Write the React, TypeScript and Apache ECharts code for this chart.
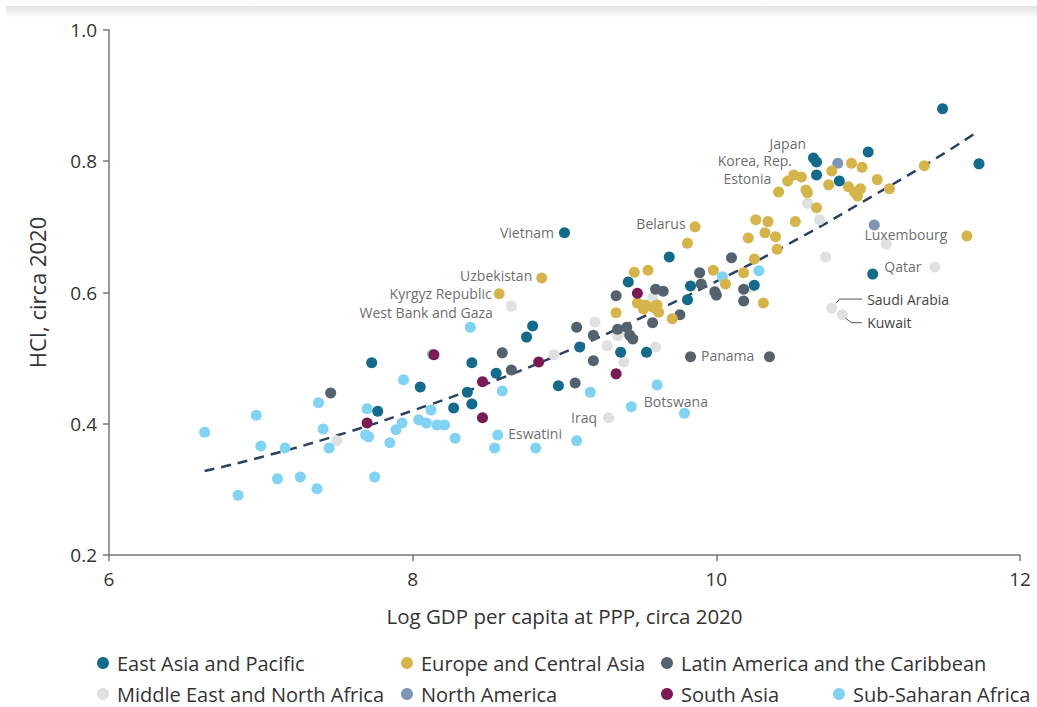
import React, { useEffect, useRef } from "react";
import * as echarts from "echarts";

// ---- Data ----
const regionNames = [
  "East Asia and Pacific",
  "Europe and Central Asia",
  "Latin America and the Caribbean",
  "Middle East and North Africa",
  "North America",
  "South Asia",
  "Sub-Saharan Africa",
];

const eastAsiaPacific = [
  [7.73, 0.493], [7.77, 0.419], [8.05, 0.456], [8.36, 0.448], [8.39, 0.493], [8.27, 0.424],
  [8.39, 0.43], [8.55, 0.477], [9.0, 0.691], [8.79, 0.549], [8.75, 0.532], [9.1, 0.517],
  [8.96, 0.458], [9.37, 0.509], [9.54, 0.509], [9.42, 0.616], [9.69, 0.654], [9.83, 0.61],
  [9.81, 0.589], [10.25, 0.611], [10.64, 0.805], [10.66, 0.799], [10.66, 0.779], [10.81, 0.77],
  [11.0, 0.814], [11.49, 0.88], [11.73, 0.796], [11.03, 0.628],
];

const europeCentralAsia = [
  [8.57, 0.598], [8.85, 0.622], [9.86, 0.7], [9.81, 0.675], [9.46, 0.631], [9.55, 0.634],
  [9.48, 0.584], [9.53, 0.581], [9.58, 0.578], [9.61, 0.581], [9.62, 0.57], [9.52, 0.575],
  [9.34, 0.569], [9.71, 0.56], [9.98, 0.634], [10.18, 0.63], [10.06, 0.613], [10.25, 0.651],
  [10.4, 0.666], [10.31, 0.584], [10.21, 0.683], [10.26, 0.711], [10.34, 0.708], [10.32, 0.691],
  [10.39, 0.685], [10.52, 0.708], [10.41, 0.753], [10.47, 0.77], [10.51, 0.779], [10.56, 0.776],
  [10.59, 0.756], [10.6, 0.752], [10.66, 0.729], [10.76, 0.785], [10.74, 0.764], [10.87, 0.761],
  [10.89, 0.797], [10.96, 0.791], [10.91, 0.753], [10.93, 0.747], [10.95, 0.758], [11.06, 0.772],
  [11.14, 0.758], [11.37, 0.793], [11.65, 0.686],
];

const latinAmerica = [
  [7.46, 0.447], [8.59, 0.508], [8.65, 0.482], [9.07, 0.462], [9.08, 0.547], [9.19, 0.535],
  [9.19, 0.496], [9.34, 0.595], [9.35, 0.544], [9.41, 0.547], [9.43, 0.535], [9.45, 0.529],
  [9.58, 0.554], [9.6, 0.605], [9.65, 0.602], [9.76, 0.566], [9.89, 0.63], [9.9, 0.613],
  [9.99, 0.601], [10.0, 0.596], [10.1, 0.653], [10.18, 0.605], [10.18, 0.587], [9.83, 0.502],
  [10.35, 0.502],
];

const middleEastNorthAfrica = [
  [7.5, 0.374], [8.65, 0.579], [8.93, 0.505], [9.2, 0.555], [9.28, 0.519], [9.35, 0.534],
  [9.39, 0.494], [9.6, 0.517], [9.58, 0.592], [9.29, 0.409], [10.23, 0.608], [10.6, 0.736],
  [10.68, 0.711], [10.72, 0.654], [11.12, 0.674], [11.44, 0.639], [10.76, 0.576], [10.83, 0.566],
  [9.39, 0.54],
];

const northAmerica = [[10.8, 0.797], [11.04, 0.703]];

const southAsia = [
  [7.7, 0.401], [8.14, 0.505], [8.46, 0.464], [8.46, 0.409], [8.83, 0.494], [9.34, 0.476], [9.48, 0.599],
];

const subSaharanAfrica = [
  [6.63, 0.387], [6.97, 0.413], [7.0, 0.366], [6.85, 0.291], [7.11, 0.316], [7.16, 0.363],
  [7.26, 0.319], [7.37, 0.301], [7.38, 0.432], [7.41, 0.392], [7.45, 0.363], [7.7, 0.423],
  [7.69, 0.383], [7.71, 0.38], [7.85, 0.371], [7.89, 0.391], [7.93, 0.401], [7.75, 0.319],
  [7.94, 0.467], [8.38, 0.547], [8.04, 0.406], [8.09, 0.401], [8.16, 0.398], [8.21, 0.398],
  [8.12, 0.421], [8.28, 0.378], [8.56, 0.383], [8.54, 0.363], [8.59, 0.45], [8.81, 0.363],
  [9.08, 0.374], [9.17, 0.448], [9.61, 0.459], [9.44, 0.426], [9.79, 0.416], [10.04, 0.624],
  [10.28, 0.633], [8.13, 0.506],
];

// fitted trend
const trendLine = [
  [6.63, 0.328], [7.0, 0.349], [7.5, 0.382], [8.0, 0.42], [8.5, 0.462], [9.0, 0.509],
  [9.5, 0.561], [10.0, 0.617], [10.5, 0.677], [11.0, 0.743], [11.5, 0.812], [11.7, 0.842],
];

const labelledCountries = [
  { name: "Vietnam", value: [9.0, 0.691] },
  { name: "Belarus", value: [9.86, 0.7] },
  { name: "Uzbekistan", value: [8.85, 0.622] },
  { name: "Kyrgyz Republic", value: [8.57, 0.598] },
  { name: "West Bank and Gaza", value: [8.65, 0.579] },
  { name: "Japan", value: [10.64, 0.805] },
  { name: "Korea, Rep.", value: [10.66, 0.799] },
  { name: "Estonia", value: [10.47, 0.77] },
  { name: "Luxembourg", value: [11.65, 0.686] },
  { name: "Qatar", value: [11.44, 0.639] },
  { name: "Panama", value: [9.83, 0.502] },
  { name: "Botswana", value: [9.44, 0.426] },
  { name: "Iraq", value: [9.29, 0.409] },
  { name: "Eswatini", value: [8.56, 0.383] },
];

const saudiLeader = [[10.79, 0.584], [10.81, 0.59], [10.96, 0.59]];
const kuwaitLeader = [[10.85, 0.561], [10.89, 0.554], [10.96, 0.554]];

const xTicks = [6, 8, 10, 12];
const yTicks = [0.2, 0.4, 0.6, 0.8, 1.0];

// ---- Styling ----
const COLORS: Record<string, string> = {
  "East Asia and Pacific": "#136a8a",
  "Europe and Central Asia": "#d5b54b",
  "Latin America and the Caribbean": "#55626e",
  "Middle East and North Africa": "#e0e0e0",
  "North America": "#7d94b4",
  "South Asia": "#7a1b55",
  "Sub-Saharan Africa": "#80d3f2",
};

const FONT = "'Open Sans', sans-serif";

// [side, distance, dx, dy]
const LABEL_LAYOUT: Record<string, [string, number, number, number]> = {
  Vietnam: ["left", 5, 0, 0],
  Belarus: ["left", 4, 0, -3],
  Uzbekistan: ["left", 4, 0, -3],
  "Kyrgyz Republic": ["left", 2, 0, 0],
  "West Bank and Gaza": ["left", 13, 0, 6],
  Japan: ["left", 2, 0, -14],
  "Korea, Rep.": ["left", 19, 0, -1],
  Estonia: ["left", 11, 0, -2],
  Luxembourg: ["left", 14, 0, -2],
  Qatar: ["left", 8, 0, 0],
  Panama: ["right", 5, 0, -1],
  Botswana: ["right", 7, 0, -5],
  Iraq: ["left", 6, 0, 0],
  Eswatini: ["right", 5, 0, -1],
};

const LEGEND_POS: [number, number][] = [
  [97, 653], [401, 653], [661, 653],
  [97, 684], [401, 684], [661, 684], [833, 684],
];

export default function App() {
  const ref = useRef<HTMLDivElement>(null);

  useEffect(() => {
    if (!ref.current) return;
    const chart = echarts.init(ref.current, undefined, { renderer: "svg" });

    const regionData = [
      eastAsiaPacific,
      europeCentralAsia,
      latinAmerica,
      middleEastNorthAfrica,
      northAmerica,
      southAsia,
      subSaharanAfrica,
    ];
    const drawOrder = [3, 6, 4, 2, 1, 0, 5];

    const scatterSeries = drawOrder.map((i) => ({
      type: "scatter",
      name: regionNames[i],
      data: regionData[i],
      symbol: "circle",
      symbolSize: 11,
      itemStyle: { color: COLORS[regionNames[i]], opacity: 1 },
      z: 3,
    }));

    const labelSeries = {
      type: "scatter",
      name: "labels",
      symbolSize: 11,
      itemStyle: { color: "transparent" },
      z: 5,
      silent: true,
      data: labelledCountries.map((c) => {
        const [pos, dist, dx, dy] = LABEL_LAYOUT[c.name];
        return {
          name: c.name,
          value: c.value,
          label: {
            show: true,
            formatter: c.name,
            position: pos,
            distance: dist,
            offset: [dx, dy],
            color: "#444",
            fontSize: 14,
            lineHeight: 15,
            fontFamily: FONT,
          },
        };
      }),
    };

    const leader = (data: number[][], text: string) => ({
      type: "line",
      name: text,
      silent: true,
      symbol: "circle",
      symbolSize: 0.1,
      showSymbol: true,
      lineStyle: { color: "#555", width: 1 },
      itemStyle: { color: "#555" },
      z: 4,
      data: data.map((p, k) =>
        k === data.length - 1
          ? {
              value: p,
              label: {
                show: true,
                formatter: text,
                position: "right",
                distance: 5,
                color: "#444",
                fontSize: 14,
                fontFamily: FONT,
              },
            }
          : { value: p }
      ),
    });

    const legends = regionNames.map((n, i) => ({
      data: [n],
      left: LEGEND_POS[i][0],
      top: LEGEND_POS[i][1],
      icon: "circle",
      itemWidth: 12,
      itemHeight: 12,
      itemGap: 0,
      padding: 0,
      selectedMode: false,
      textStyle: { color: "#333", fontSize: 20, fontFamily: FONT, padding: [0, 0, 0, 3] },
    }));

    chart.setOption({
      animation: false,
      backgroundColor: "#fff",
      textStyle: { fontFamily: FONT },
      grid: { left: 109, right: 17, top: 30, bottom: 152, containLabel: false },
      graphic: [
        {
          type: "rect",
          left: 6,
          top: 6,
          shape: { width: 1031, height: 12 },
          style: {
            fill: new echarts.graphic.LinearGradient(0, 0, 0, 1, [
              { offset: 0, color: "#e4e4e4" },
              { offset: 1, color: "#ffffff" },
            ]),
          },
          silent: true,
        },
      ],
      legend: legends,
      xAxis: {
        type: "value",
        min: xTicks[0],
        max: xTicks[xTicks.length - 1],
        interval: 2,
        name: "Log GDP per capita at PPP, circa 2020",
        nameLocation: "middle",
        nameGap: 50,
        nameTextStyle: { color: "#333", fontSize: 20.5, fontFamily: FONT },
        axisLine: { show: true, lineStyle: { color: "#777", width: 1.5 } },
        axisTick: { show: true, inside: false, length: 6, lineStyle: { color: "#777", width: 1.5 } },
        axisLabel: { color: "#333", fontSize: 19, margin: 14, fontFamily: FONT },
        splitLine: { show: false },
      },
      yAxis: {
        type: "value",
        min: yTicks[0],
        max: yTicks[yTicks.length - 1],
        interval: 0.2,
        name: "HCI, circa 2020",
        nameLocation: "middle",
        nameGap: 61,
        nameTextStyle: { color: "#333", fontSize: 22, fontFamily: FONT },
        axisLine: { show: true, lineStyle: { color: "#777", width: 1.5 } },
        axisTick: { show: true, inside: false, length: 6, lineStyle: { color: "#777", width: 1.5 } },
        axisLabel: {
          color: "#333",
          fontSize: 19,
          margin: 12,
          fontFamily: FONT,
          formatter: (v: number) => v.toFixed(1),
        },
        splitLine: { show: false },
      },
      series: [
        {
          type: "line",
          name: "trend",
          data: trendLine,
          smooth: true,
          symbol: "none",
          silent: true,
          lineStyle: { color: "#2b4160", width: 2.5, type: [10, 7] },
          z: 2,
        },
        ...scatterSeries,
        labelSeries,
        leader(saudiLeader, "Saudi Arabia"),
        leader(kuwaitLeader, "Kuwait"),
      ],
    });

    return () => chart.dispose();
  }, []);

  return (
    <div
      ref={ref}
      style={{ position: "absolute", left: 0, top: 0, width: 1037, height: 707, background: "#fff" }}
    />
  );
}
